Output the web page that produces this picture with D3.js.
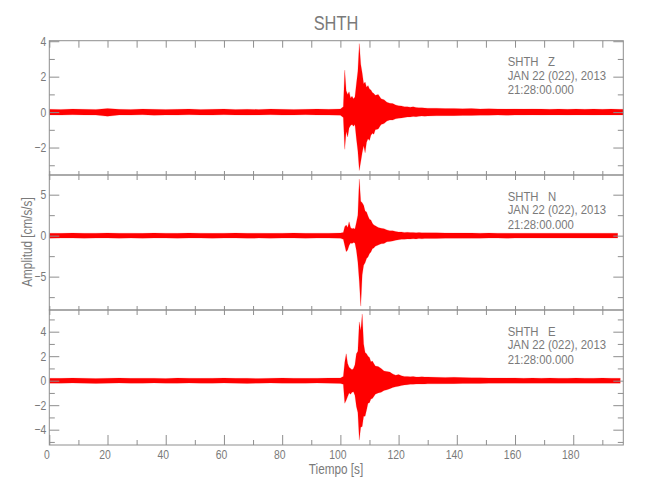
<!DOCTYPE html>
<html><head><meta charset="utf-8">
<script src="https://cdn.jsdelivr.net/npm/d3@7"></script>
<style>
html,body{margin:0;padding:0;background:#fff;}
text{font-family:"Liberation Sans",Arial,sans-serif;}
</style></head>
<body><div id="chart"></div>
<script>
// ---- data ----
const title = "SHTH";
const components = ["Z", "N", "E"];
const dateLine = "JAN 22 (022), 2013";
const timeLine = "21:28:00.000";
const xTicks = [0, 20, 40, 60, 80, 100, 120, 140, 160, 180];
const xLabel = "Tiempo [s]";
const yLabel = "Amplitud [cm/s/s]";

// sample times (s) for envelope values
const times = [0,4,8,12,16,20,24,28,32,36,40,44,48,52,56,60,64,68,72,76,80,84,88,92,96,100,
  101,101.5,102,102.5,103,103.5,104,104.5,105,105.5,106,106.5,107,107.5,108,108.5,109,109.5,110,110.5,111,111.5,112,
  113,114,115,116,117,118,119,120,121,122,123,124,125,126,127,128,129,130,
  133,136,139,142,145,148,151,154,157,160,163,166,169,172,175,178,181,184,187,190,193,196,197.2];

// Z component envelope (max / min)
const zUpper = [0.16,0.15,0.17,0.16,0.15,0.2,0.16,0.15,0.17,0.16,0.15,0.16,0.17,0.15,0.16,0.17,0.15,0.16,0.15,0.17,0.16,0.15,0.16,0.17,0.16,0.18,
  0.3,2.37,1.2,1.0,1.15,0.8,0.9,0.75,0.85,1.6,2.3,3.87,2.7,2.2,1.6,1.7,1.4,1.5,1.3,1.25,1.1,1.05,0.95,
  1.0,0.75,0.7,0.55,0.5,0.48,0.4,0.36,0.35,0.3,0.3,0.28,0.3,0.26,0.25,0.25,0.23,0.22,
  0.22,0.2,0.21,0.19,0.2,0.18,0.19,0.18,0.17,0.18,0.17,0.18,0.17,0.16,0.17,0.16,0.17,0.16,0.17,0.16,0.17,0.16,0.16];
const zLower = [-0.16,-0.17,-0.15,-0.16,-0.17,-0.24,-0.16,-0.17,-0.15,-0.18,-0.16,-0.17,-0.15,-0.16,-0.17,-0.15,-0.16,-0.17,-0.16,-0.15,-0.17,-0.16,-0.15,-0.16,-0.17,-0.18,
  -0.3,-2.1,-1.1,-1.4,-0.9,-0.75,-0.7,-0.8,-0.7,-1.5,-2.2,-3.3,-2.8,-2.3,-1.9,-2.3,-1.7,-1.5,-1.6,-1.3,-1.2,-1.25,-1.0,
  -0.95,-0.7,-0.65,-0.5,-0.45,-0.45,-0.38,-0.35,-0.33,-0.3,-0.28,-0.27,-0.25,-0.26,-0.24,-0.22,-0.23,-0.22,
  -0.21,-0.2,-0.2,-0.19,-0.19,-0.18,-0.18,-0.17,-0.18,-0.17,-0.17,-0.16,-0.17,-0.16,-0.16,-0.17,-0.16,-0.16,-0.17,-0.16,-0.16,-0.16,-0.16];

// N component envelope
const nUpper = [0.3,0.28,0.31,0.29,0.3,0.32,0.29,0.3,0.28,0.31,0.3,0.29,0.31,0.3,0.28,0.3,0.31,0.29,0.3,0.28,0.3,0.31,0.29,0.3,0.3,0.32,
  0.4,1.1,1.3,1.0,1.7,1.0,0.85,0.9,0.8,1.6,2.5,6.9,4.2,4.0,3.7,3.0,2.9,2.4,2.0,1.9,1.5,1.3,1.2,
  1.0,0.9,0.85,0.7,0.6,0.6,0.5,0.45,0.45,0.4,0.42,0.38,0.4,0.36,0.38,0.35,0.36,0.35,
  0.34,0.33,0.32,0.32,0.31,0.3,0.31,0.3,0.3,0.29,0.3,0.3,0.29,0.3,0.29,0.3,0.3,0.29,0.3,0.29,0.3,0.3,0.3];
const nLower = [-0.31,-0.3,-0.29,-0.31,-0.3,-0.28,-0.32,-0.3,-0.31,-0.29,-0.3,-0.31,-0.29,-0.3,-0.32,-0.3,-0.29,-0.31,-0.3,-0.32,-0.3,-0.29,-0.31,-0.3,-0.3,-0.33,
  -0.45,-1.2,-1.95,-1.75,-1.2,-0.9,-0.95,-0.85,-0.9,-1.8,-3.2,-5.6,-8.6,-4.8,-3.6,-3.3,-2.8,-2.6,-2.2,-2.0,-1.6,-1.5,-1.3,
  -1.15,-1.0,-0.95,-0.75,-0.7,-0.65,-0.55,-0.5,-0.45,-0.45,-0.4,-0.42,-0.38,-0.4,-0.36,-0.38,-0.35,-0.35,
  -0.34,-0.33,-0.33,-0.32,-0.31,-0.31,-0.3,-0.3,-0.31,-0.3,-0.3,-0.29,-0.3,-0.3,-0.3,-0.29,-0.3,-0.3,-0.29,-0.3,-0.3,-0.3,-0.3];

// E component envelope
const eUpper = [0.2,0.19,0.21,0.2,0.18,0.2,0.21,0.19,0.2,0.2,0.18,0.21,0.2,0.19,0.2,0.21,0.19,0.2,0.18,0.2,0.21,0.2,0.19,0.2,0.21,0.22,
  0.35,1.5,2.2,1.4,1.1,1.0,0.9,1.0,1.3,2.2,2.4,4.8,4.1,5.45,3.0,2.3,2.2,2.0,1.9,1.55,1.6,1.4,1.2,
  1.15,1.0,0.8,0.75,0.7,0.55,0.45,0.5,0.4,0.35,0.35,0.32,0.34,0.3,0.3,0.32,0.3,0.3,
  0.28,0.27,0.28,0.25,0.24,0.23,0.22,0.22,0.21,0.22,0.2,0.21,0.2,0.21,0.2,0.2,0.21,0.2,0.2,0.21,0.2,0.2,0.2];
const eLower = [-0.2,-0.21,-0.19,-0.2,-0.22,-0.2,-0.19,-0.21,-0.2,-0.18,-0.2,-0.21,-0.19,-0.2,-0.21,-0.19,-0.2,-0.22,-0.2,-0.19,-0.2,-0.21,-0.2,-0.19,-0.2,-0.22,
  -0.3,-1.85,-1.6,-1.3,-1.0,-1.1,-0.95,-0.9,-1.2,-2.1,-2.6,-4.85,-3.8,-3.75,-2.9,-2.9,-2.4,-1.85,-1.8,-1.5,-1.45,-1.3,-1.1,
  -1.0,-0.95,-0.8,-0.75,-0.65,-0.55,-0.5,-0.45,-0.4,-0.35,-0.33,-0.3,-0.3,-0.28,-0.27,-0.28,-0.27,-0.26,
  -0.26,-0.25,-0.24,-0.23,-0.22,-0.22,-0.21,-0.21,-0.2,-0.2,-0.21,-0.2,-0.2,-0.2,-0.21,-0.2,-0.2,-0.2,-0.21,-0.2,-0.2,-0.2,-0.2];

// y ticks per panel
const zTicks = [4, 2, 0, -2];
const zMinor = [3, 1, -1, -3];
const nTicks = [5, 0, -5];
const nMinor = [2.5, -2.5, -7.5];
const eTicks = [4, 2, 0, -2, -4];
const eMinor = [5, 3, 1, -1, -3, -5];

// ---- layout ----
const W = 650, H = 500;
const left = 49.3, right = 623.3;
const axisColor = "#8e8e8e", textColor = "#7a7a7a", traceColor = "#ff0000";
const panels = [
  {comp: components[0], up: zUpper, lo: zLower, top: 40.7, bottom: 175, domain: [-3.55, 4.03], ticks: zTicks, minor: zMinor, end: 197.2},
  {comp: components[1], up: nUpper, lo: nLower, top: 175, bottom: 310, domain: [-9.07, 7.4], ticks: nTicks, minor: nMinor, end: 195.3},
  {comp: components[2], up: eUpper, lo: eLower, top: 310, bottom: 445, domain: [-5.25, 5.77], ticks: eTicks, minor: eMinor, end: 196.2}
];

// condense text horizontally (reference uses a narrow stroke font)
function narrow(sel, f) {
  sel.each(function () {
    const len = this.getComputedTextLength();
    if (len > 0) d3.select(this).attr("textLength", len * f).attr("lengthAdjust", "spacingAndGlyphs");
  });
}

const svg = d3.select("#chart").append("svg").attr("width", W).attr("height", H);
const x = d3.scaleLinear().domain([0, 197.2]).range([left, right]);
const fmt = v => (v < 0 ? "\u2212" + Math.abs(v) : String(v));
const xMinorT = d3.range(10, 197, 20), xAll = d3.range(0, 197, 10);

panels.forEach((p, i) => {
  const y = d3.scaleLinear().domain(p.domain).range([p.bottom, p.top]);
  const g = svg.append("g");
  const clipId = "clip" + i;
  svg.append("clipPath").attr("id", clipId).append("rect")
    .attr("x", left).attr("y", p.top).attr("width", x(p.end) - left).attr("height", p.bottom - p.top);

  const data = times.map((t, k) => ({t, u: p.up[k], l: p.lo[k]}));
  const area = d3.area().x(d => x(d.t)).y0(d => y(d.l)).y1(d => y(d.u));
  g.append("path").datum(data).attr("d", area).attr("clip-path", `url(#${clipId})`)
    .attr("fill", traceColor).attr("stroke", traceColor).attr("stroke-width", 0.3).attr("stroke-opacity", 0.6);

  // frame
  g.append("rect").attr("x", left).attr("y", p.top).attr("width", right - left).attr("height", p.bottom - p.top)
    .attr("fill", "none").attr("stroke", axisColor).attr("stroke-width", 1);

  const la = g.append("g").attr("transform", `translate(${left},0)`)
    .call(d3.axisLeft(y).tickValues(p.ticks).tickSizeInner(-10).tickSizeOuter(0).tickPadding(3).tickFormat(fmt));
  const lm = g.append("g").attr("transform", `translate(${left},0)`)
    .call(d3.axisLeft(y).tickValues(p.minor).tickSizeInner(-5.5).tickSizeOuter(0).tickFormat(""));
  const ra = g.append("g").attr("transform", `translate(${right},0)`)
    .call(d3.axisRight(y).tickValues(p.ticks).tickSizeInner(-10).tickSizeOuter(0).tickFormat(""));
  const rm = g.append("g").attr("transform", `translate(${right},0)`)
    .call(d3.axisRight(y).tickValues(p.minor).tickSizeInner(-5.5).tickSizeOuter(0).tickFormat(""));
  const ta = g.append("g").attr("transform", `translate(0,${p.top})`)
    .call(d3.axisTop(x).tickValues(xAll).tickSizeInner(i === 0 ? -7 : -5).tickSizeOuter(0).tickFormat(""));
  let axes = [la, lm, ra, rm, ta];
  if (i < 2) {
    axes.push(g.append("g").attr("transform", `translate(0,${p.bottom})`)
      .call(d3.axisBottom(x).tickValues(xAll).tickSizeInner(-4).tickSizeOuter(0).tickFormat("")));
  } else {
    const bM = g.append("g").attr("transform", `translate(0,${p.bottom})`)
      .call(d3.axisBottom(x).tickValues(xTicks).tickSizeInner(-10).tickSizeOuter(0).tickFormat(d => d));
    const bm = g.append("g").attr("transform", `translate(0,${p.bottom})`)
      .call(d3.axisBottom(x).tickValues(xMinorT).tickSizeInner(-5).tickSizeOuter(0).tickFormat(""));
    bM.selectAll(".tick text").attr("y", 13.5).attr("dy", 0).attr("dx", -3);
    axes.push(bM, bm);
  }
  axes.forEach(a => {
    a.select(".domain").remove();
    a.selectAll(".tick line").attr("stroke", axisColor);
    a.selectAll(".tick text").attr("fill", textColor).style("font-size", "13px")
      .style("font-family", '"Liberation Sans",Arial,sans-serif');
    narrow(a.selectAll(".tick text"), 0.8);
  });

  // info text
  const lines = ["SHTH   " + p.comp, dateLine, timeLine];
  const offs = [25.5, 39.3, 53.5];
  lines.forEach((s, k) => {
    const t = g.append("text").attr("x", 507.7).attr("y", p.top + offs[k])
      .attr("fill", textColor).style("font-size", "13.5px").style("white-space", "pre").text(s);
    narrow(t, 0.84);
  });
});

const tt = svg.append("text").attr("x", 336).attr("y", 30).attr("text-anchor", "middle")
  .attr("fill", textColor).style("font-size", "20.5px").text(title);
narrow(tt, 0.8);
const xl = svg.append("text").attr("x", 336).attr("y", 474).attr("text-anchor", "middle")
  .attr("fill", textColor).style("font-size", "14px").text(xLabel);
narrow(xl, 0.84);
const yl = svg.append("text").attr("transform", "translate(32,242) rotate(-90)").attr("text-anchor", "middle")
  .attr("fill", textColor).style("font-size", "14px").text(yLabel);
narrow(yl, 0.84);
</script>
</body></html>
